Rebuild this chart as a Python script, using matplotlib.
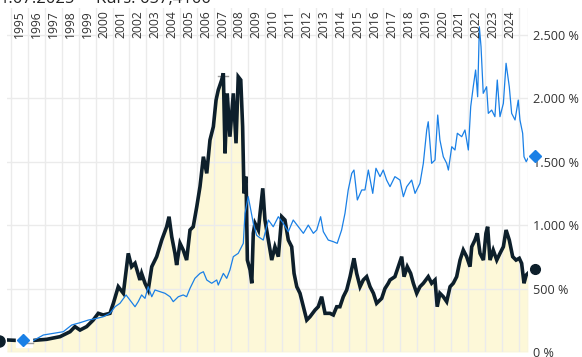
# %% import
import numpy as np
import matplotlib
matplotlib.use('Agg')
import matplotlib.pyplot as plt
from matplotlib.ticker import FuncFormatter
import matplotlib.transforms as mtrans

plt.rcParams['font.family'] = ['Open Sans', 'DejaVu Sans']

# %% data (performance in %, x in decimal years)
stock_years = [1994.76, 1995.24, 1996.2, 1997.11, 1997.90, 1998.49, 1998.78, 1999.08, 1999.47, 1999.86,
               2000.16, 2000.45, 2000.85, 2001.05, 2001.34, 2001.64, 2001.93, 2002.13, 2002.33, 2002.62,
               2002.72, 2002.92, 2003.11, 2003.32, 2003.61, 2003.91, 2004.20, 2004.34, 2004.50, 2004.69,
               2004.79, 2004.99, 2005.18, 2005.38, 2005.58, 2005.77, 2005.98, 2006.17, 2006.37, 2006.57,
               2006.76, 2006.96, 2007.12, 2007.25, 2007.45, 2007.55, 2007.65, 2007.78, 2007.94, 2008.14,
               2008.30, 2008.43, 2008.58, 2008.69, 2008.77, 2008.89, 2008.97, 2009.13, 2009.23, 2009.32,
               2009.42, 2009.62, 2009.72, 2009.88, 2010.01, 2010.21, 2010.41, 2010.60, 2010.80, 2011.00,
               2011.19, 2011.39, 2011.59, 2011.73, 2011.89, 2012.08, 2012.28, 2012.48, 2012.67, 2012.97,
               2013.16, 2013.36, 2013.56, 2013.85, 2014.05, 2014.25, 2014.44, 2014.64, 2014.84, 2015.04,
               2015.27, 2015.43, 2015.63, 2015.82, 2016.02, 2016.22, 2016.42, 2016.61, 2016.91, 2017.10,
               2017.30, 2017.40, 2017.69, 2017.89, 2018.09, 2018.23, 2018.42, 2018.62, 2018.78, 2018.98,
               2019.17, 2019.37, 2019.66, 2019.86, 2020.06, 2020.19, 2020.35, 2020.55, 2020.75, 2020.95,
               2021.14, 2021.34, 2021.54, 2021.73, 2021.93, 2022.13, 2022.23, 2022.42, 2022.56, 2022.72,
               2022.92, 2023.07, 2023.17, 2023.31, 2023.50, 2023.71, 2023.90, 2024.10, 2024.26, 2024.45,
               2024.65, 2024.85, 2025.04, 2025.18, 2025.32, 2025.45, 2025.55]
stock_vals = [95, 92, 90, 100, 121, 160, 200, 173, 200, 252,
              305, 292, 305, 384, 515, 463, 778, 673, 700, 568,
              620, 542, 489, 673, 752, 883, 988, 1067, 909, 778,
              686, 857, 804, 725, 962, 988, 1146, 1304, 1540, 1409,
              1672, 1777, 1987, 2066, 2145, 2198, 1567, 2040, 1698, 2040,
              1646, 2171, 2145, 1777, 1251, 1383, 725, 647, 542, 936,
              1015, 962, 1094, 1291, 1041, 883, 725, 830, 752, 1067,
              1041, 883, 830, 620, 515, 463, 357, 252, 278, 331,
              357, 436, 305, 305, 292, 357, 357, 436, 489, 594,
              739, 620, 515, 568, 594, 515, 463, 384, 423, 500,
              542, 568, 594, 673, 752, 594, 673, 620, 542, 463,
              515, 542, 594, 542, 568, 357, 463, 436, 397, 515,
              542, 594, 725, 804, 752, 673, 830, 883, 936, 778,
              725, 936, 988, 725, 804, 725, 778, 830, 962, 883,
              752, 725, 739, 699, 542, 607, 620]

index_years = [1995.73, 1996.32, 1996.91, 1997.50, 1998.09, 1998.59, 1999.08, 1999.57, 2000.06, 2000.45,
               2000.85, 2001.15, 2001.44, 2001.80, 2002.03, 2002.33, 2002.52, 2002.72, 2002.92, 2003.11,
               2003.32, 2003.51, 2003.81, 2004.10, 2004.40, 2004.59, 2004.89, 2005.18, 2005.38, 2005.58,
               2005.87, 2006.17, 2006.37, 2006.57, 2006.86, 2007.16, 2007.25, 2007.55, 2007.75, 2007.94,
               2008.14, 2008.43, 2008.63, 2008.73, 2008.83, 2009.02, 2009.13, 2009.32, 2009.52, 2009.72,
               2009.91, 2010.21, 2010.50, 2010.80, 2011.09, 2011.39, 2011.68, 2011.98, 2012.28, 2012.57,
               2012.87, 2013.07, 2013.30, 2013.46, 2013.75, 2014.05, 2014.28, 2014.54, 2014.74, 2014.93,
               2015.14, 2015.27, 2015.47, 2015.73, 2015.92, 2016.12, 2016.38, 2016.57, 2016.81, 2017.00,
               2017.20, 2017.40, 2017.69, 2017.99, 2018.19, 2018.39, 2018.68, 2018.88, 2019.17, 2019.37,
               2019.57, 2019.66, 2019.86, 2020.06, 2020.22, 2020.35, 2020.55, 2020.75, 2020.85, 2021.05,
               2021.24, 2021.38, 2021.64, 2021.83, 2022.03, 2022.17, 2022.32, 2022.46, 2022.58, 2022.68,
               2022.78, 2022.91, 2023.11, 2023.21, 2023.41, 2023.60, 2023.74, 2023.90, 2024.10, 2024.26,
               2024.45, 2024.59, 2024.79, 2024.98, 2025.08, 2025.24, 2025.32, 2025.45, 2025.55]
index_vals = [95, 90, 134, 147, 160, 213, 231, 252, 265, 278,
              305, 357, 384, 450, 410, 357, 397, 450, 423, 515,
              436, 489, 476, 463, 436, 397, 436, 450, 436, 502,
              581, 620, 633, 568, 542, 568, 528, 620, 581, 647,
              752, 778, 830, 857, 1094, 1225, 1150, 1015, 920, 900,
              883, 1041, 988, 1067, 1015, 949, 1041, 988, 936, 1001,
              936, 962, 1067, 949, 883, 870, 857, 962, 1094, 1278,
              1409, 1435, 1199, 1278, 1278, 1435, 1251, 1449, 1383, 1435,
              1356, 1304, 1383, 1356, 1225, 1304, 1356, 1251, 1330, 1488,
              1751, 1816, 1488, 1514, 1869, 1672, 1540, 1488, 1435, 1619,
              1593, 1725, 1698, 1751, 1593, 1935, 2092, 2224, 2013, 2565,
              2408, 2040, 2092, 1882, 1908, 1856, 2145, 1856, 1961, 2277,
              2092, 1882, 1830, 1987, 1830, 1725, 1540, 1501, 1527]

year_labels = list(range(1995, 2025))
y_ticks = [0, 500, 1000, 1500, 2000, 2500]
last_stock = 657.41
last_index = 1545

# %% colours
dark = '#0d1f2b'
blue = '#1a80e6'
cream = '#fdf8d8'
grid = '#ebebeb'

# %% figure
fig = plt.figure(figsize=(5.82, 3.57), dpi=100)
ax = fig.add_axes([7 / 582, 5 / 357, 521 / 582, 344 / 357])
ax.set_xlim(1994.764, 2025.556)
ax.set_ylim(0, 2713)

for s in ax.spines.values():
    s.set_visible(False)

# fill below the stock line
ax.fill_between(stock_years, stock_vals, 0, color=cream, lw=0, zorder=1)

# grid over the fill, under the lines
for yr in range(1995, 2026):
    ax.axvline(yr, color=grid, lw=1, zorder=1.5)
ax.axvline(2025.556, color=grid, lw=1, zorder=1.5)
for v in y_ticks:
    ax.axhline(v, color=grid, lw=1, zorder=1.5)

ax.plot(stock_years, stock_vals, color=dark, lw=2.6, zorder=3, solid_joinstyle='miter')
ax.plot(index_years, index_vals, color=blue, lw=0.9, zorder=4)

# max / min markers
ax.plot([2007.25, 2007.85], [2180, 2180], color='#999999', lw=1, zorder=2)
ax.add_patch(plt.Rectangle((1995.3, 40), 0.95, 110, color='white', zorder=4.5, clip_on=False))
ax.plot([1995.73, 1996.3], [70, 70], color='#999999', lw=1, zorder=5)
ax.plot([1995.73], [95], marker='D', ms=6, color=blue, zorder=6, clip_on=False)
ax.plot([1994.29], [90], marker='o', ms=8, color=dark, zorder=6, clip_on=False)

# end markers
ax.plot([2025.97], [last_stock], marker='o', ms=7, color=dark, zorder=6, clip_on=False)
ax.plot([2025.97], [last_index], marker='D', ms=6, color=blue, zorder=6, clip_on=False)

# y axis on the right
ax.yaxis.tick_right()
ax.set_yticks(y_ticks)
ax.yaxis.set_major_formatter(FuncFormatter(lambda v, p: f'{int(v):,} %'.replace(',', '.')))
ax.tick_params(axis='y', length=0, pad=3.6, labelsize=9.1, labelcolor='#333333')
ax.set_xticks([])

# year labels inside the plot, rotated
trans = mtrans.blended_transform_factory(ax.transData, ax.transAxes)
for yr in year_labels:
    ax.text(yr + 0.5, 0.994, str(yr), transform=trans, rotation=90, ha='center', va='top',
            fontsize=8.7, color='#333333', zorder=7)

# header, cut off at the top edge
fig.text(0, 1 - 3 / 357, '1.07.2025', fontsize=12, color='#222222', va='baseline', ha='left')
fig.text(96 / 582, 1 - 3 / 357, 'Kurs: 657,4100', fontsize=12, color='#222222', va='baseline', ha='left')

fig.savefig('out.png', dpi=100)
